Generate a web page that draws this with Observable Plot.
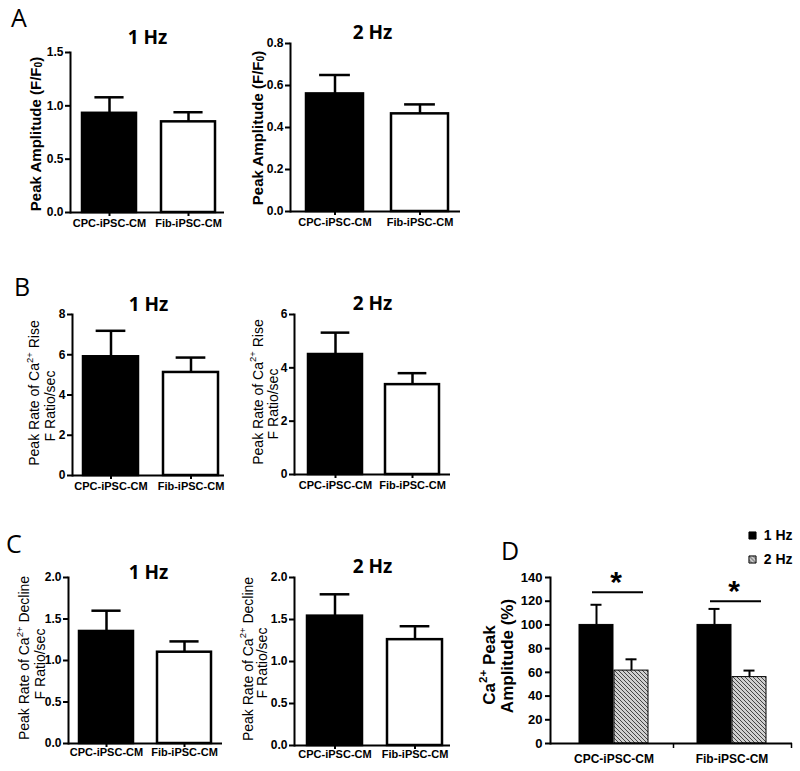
<!DOCTYPE html>
<html><head><meta charset="utf-8">
<script src="https://cdn.jsdelivr.net/npm/d3@7"></script>
<script src="https://cdn.jsdelivr.net/npm/@observablehq/plot@0.6"></script>
<style>
body{margin:0;background:#fff;}
#fig{position:relative;width:800px;height:771px;overflow:hidden;background:#fff;}
#fig svg{position:absolute;left:0;top:0;}
</style></head><body>
<div id="fig"></div>
<svg width="0" height="0" style="position:absolute">
  <defs>
    <pattern id="hatch" patternUnits="userSpaceOnUse" width="4" height="4">
      <rect width="4" height="4" fill="#cfcfcf"/>
      <path d="M-1,-1 L5,5 M3,-1 L5,1 M-1,3 L1,5" stroke="#444" stroke-width="1"/>
    </pattern>
  </defs>
</svg>
<script>
// ---------- data ----------
const groups = ["CPC-iPSC-CM", "Fib-iPSC-CM"];
const freqs = ["1 Hz", "2 Hz"];
// Panel A: Peak amplitude (F/F0)
const ampMean1Hz = [0.93, 0.85];
const ampSem1Hz = [0.15, 0.09];
const ampMean2Hz = [0.56, 0.465];
const ampSem2Hz = [0.09, 0.045];
const ampTicks1Hz = [0, 0.5, 1.0, 1.5];
const ampTicks2Hz = [0, 0.2, 0.4, 0.6, 0.8];
// Panel B: Peak rate of Ca2+ rise
const riseMean1Hz = [5.9, 5.12];
const riseSem1Hz = [1.29, 0.74];
const riseMean2Hz = [4.5, 3.37];
const riseSem2Hz = [0.82, 0.43];
const riseTicks1Hz = [0, 2, 4, 6, 8];
const riseTicks2Hz = [0, 2, 4, 6];
// Panel C: Peak rate of Ca2+ decline
const declMean1Hz = [1.35, 1.10];
const declSem1Hz = [0.25, 0.13];
const declMean2Hz = [1.54, 1.26];
const declSem2Hz = [0.26, 0.16];
const declTicks = [0, 0.5, 1.0, 1.5, 2.0];
// Panel D: Ca2+ peak amplitude (%)
const pct1Hz = [100, 100];
const pctSem1Hz = [17, 13.5];
const pct2Hz = [61.5, 56];
const pctSem2Hz = [9.5, 5.5];
const pctTicks = [0, 20, 40, 60, 80, 100, 120, 140];
const sigLineY = [127.5, 120];
const sigMark = ["*", "*"];

const FONT = "'Liberation Sans', Arial, Helvetica, sans-serif";
const TITLEFONT = "'Open Sans', 'Liberation Sans', sans-serif";
const W = 800, H = 771;
const fig = document.getElementById("fig");

function smallPanel(o) {
  const data = groups.map((g, i) => ({g, v: o.mean[i], e: o.sem[i]}));
  const step = o.s2 - o.s1;
  const pi = 1 - o.w / step;
  const ci = o.w * 0.23;
  const svg = Plot.plot({
    width: W, height: H,
    marginLeft: o.L, marginRight: W - o.R, marginTop: o.T, marginBottom: H - o.B,
    style: {background: "transparent", fontFamily: FONT, color: "black", overflow: "visible"},
    x: {domain: groups, range: [o.s1, o.s2 + o.w], paddingInner: pi, paddingOuter: 0, axis: null},
    y: {domain: [0, o.ticks[o.ticks.length - 1]], axis: null},
    color: {type: "ordinal", domain: groups, range: ["#000", "#fff"]},
    marks: [
      Plot.barY(data, {x: "g", y: "v", fill: "g", stroke: "#000", strokeWidth: 2.5}),
      Plot.ruleX(data, {x: "g", y1: "v", y2: d => d.v + d.e, stroke: "#000", strokeWidth: 2.5}),
      Plot.tickY(data, {x: "g", y: d => d.v + d.e, stroke: "#000", strokeWidth: 2.5, insetLeft: ci, insetRight: ci}),
      Plot.ruleY([0], {stroke: "#000", strokeWidth: 2}),
      Plot.frame({anchor: "left", stroke: "#000", strokeWidth: 2}),
      Plot.axisY({ticks: o.ticks, tickSize: 5, tickPadding: 2, tickFormat: o.fmt, fontSize: 12, fontWeight: "bold", fontFamily: FONT, strokeWidth: 2, label: null}),
      Plot.axisX({tickSize: 4, tickPadding: o.labPad, fontSize: 11, fontWeight: "bold", fontFamily: FONT, strokeWidth: 2, label: null}),
      Plot.text([o.title], {frameAnchor: "top", dy: o.titleY - o.T, dx: o.titleDx || 0, lineAnchor: "middle", fontSize: 19, fontWeight: "bold", fontFamily: TITLEFONT})
    ]
  });
  fig.appendChild(svg);
}

const f1 = d3.format(".1f"), f0 = d3.format("d");
smallPanel({mean: ampMean1Hz, sem: ampSem1Hz, ticks: ampTicks1Hz, fmt: f1, title: freqs[0],
  L: 70, R: 224, T: 52, B: 212, s1: 82, s2: 161, w: 54, titleY: 37, labPad: 3});
smallPanel({mean: ampMean2Hz, sem: ampSem2Hz, ticks: ampTicks2Hz, fmt: f1, title: freqs[1],
  L: 290, R: 460, T: 43, B: 211, s1: 306, s2: 391, w: 57, titleY: 32, titleDx: -3, labPad: 3});
smallPanel({mean: riseMean1Hz, sem: riseSem1Hz, ticks: riseTicks1Hz, fmt: f0, title: freqs[0],
  L: 72, R: 224, T: 314, B: 475, s1: 83, s2: 163, w: 55, titleY: 304, labPad: 3});
smallPanel({mean: riseMean2Hz, sem: riseSem2Hz, ticks: riseTicks2Hz, fmt: f0, title: freqs[1],
  L: 294, R: 450, T: 314, B: 474, s1: 307, s2: 385, w: 55, titleY: 303, labPad: 3});
smallPanel({mean: declMean1Hz, sem: declSem1Hz, ticks: declTicks, fmt: f1, title: freqs[0],
  L: 68, R: 222, T: 577, B: 743, s1: 79, s2: 157, w: 54, titleY: 572, titleDx: 3, labPad: 1});
smallPanel({mean: declMean2Hz, sem: declSem2Hz, ticks: declTicks, fmt: f1, title: freqs[1],
  L: 294, R: 450, T: 577, B: 745, s1: 307, s2: 387, w: 55, titleY: 566, labPad: 1});

// ---------- Panel D ----------
(function () {
  const d1 = groups.map((g, i) => ({g, v: pct1Hz[i], e: pctSem1Hz[i]}));
  const d2 = groups.map((g, i) => ({g, v: pct2Hz[i], e: pctSem2Hz[i]}));
  const sig = groups.map((g, i) => ({g, y: sigLineY[i], s: sigMark[i]}));
  const L = 550, R = 792, T = 577, B = 743;
  const s1 = 578, s2 = 697, w = 70;
  const half = w / 2;
  const cap = 6;
  const svg = Plot.plot({
    width: W, height: H,
    marginLeft: L, marginRight: W - R, marginTop: T, marginBottom: H - B,
    style: {background: "transparent", fontFamily: FONT, color: "black", overflow: "visible"},
    x: {domain: groups, range: [s1, s2 + w], paddingInner: 1 - w / (s2 - s1), paddingOuter: 0, axis: null},
    y: {domain: [0, 140], axis: null},
    marks: [
      Plot.barY(d1, {x: "g", y: "v", fill: "#000", stroke: "#000", strokeWidth: 1, insetRight: half}),
      Plot.barY(d2, {x: "g", y: "v", fill: "url(#hatch)", stroke: "#000", strokeWidth: 1, insetLeft: half}),
      Plot.ruleX(d1, {x: "g", y1: "v", y2: d => d.v + d.e, dx: -half / 2, stroke: "#000", strokeWidth: 2}),
      Plot.ruleX(d2, {x: "g", y1: "v", y2: d => d.v + d.e, dx: half / 2, stroke: "#000", strokeWidth: 2}),
      Plot.tickY(d1, {x: "g", y: d => d.v + d.e, stroke: "#000", strokeWidth: 2, insetLeft: half / 2 - cap, insetRight: half + half / 2 - cap}),
      Plot.tickY(d2, {x: "g", y: d => d.v + d.e, stroke: "#000", strokeWidth: 2, insetLeft: half + half / 2 - cap, insetRight: half / 2 - cap}),
      Plot.tickY(sig, {x: "g", y: "y", stroke: "#000", strokeWidth: 2, insetLeft: 13, insetRight: 5}),
      Plot.text(sig, {x: "g", y: "y", text: "s", dx: 2, dy: -10, lineAnchor: "middle", fontSize: 30, fontWeight: "bold", fontFamily: FONT}),
      Plot.ruleY([0], {stroke: "#000", strokeWidth: 2}),
      Plot.frame({anchor: "left", stroke: "#000", strokeWidth: 2}),
      Plot.ruleX(groups, {x: d => d, y1: 0, y2: 0, dx: (s2 - s1) / 2, insetBottom: -5, stroke: "#000", strokeWidth: 1.5}),
      Plot.axisY({ticks: pctTicks, tickSize: 5, tickPadding: 3, fontSize: 13, fontWeight: "bold", fontFamily: FONT, strokeWidth: 2, label: null}),
      Plot.axisX({tickSize: 0, tickPadding: 11, fontSize: 12, fontWeight: "bold", fontFamily: FONT, label: null}),
      // legend
      Plot.dot([freqs[0]], {frameAnchor: "top-right", dx: -40, dy: -42, symbol: "square", r: 4, fill: "#000", stroke: "#000", strokeWidth: 1}),
      Plot.text([freqs[0]], {frameAnchor: "top-right", dy: -42, textAnchor: "end", lineAnchor: "middle", fontSize: 14, fontWeight: "bold", fontFamily: FONT}),
      Plot.dot([freqs[1]], {frameAnchor: "top-right", dx: -40, dy: -18, symbol: "square", r: 4, fill: "url(#hatch)", stroke: "#000", strokeWidth: 1}),
      Plot.text([freqs[1]], {frameAnchor: "top-right", dy: -18, textAnchor: "end", lineAnchor: "middle", fontSize: 14, fontWeight: "bold", fontFamily: FONT})
    ]
  });
  fig.appendChild(svg);
})();

// ---------- overlay: panel letters and y-axis titles ----------
const ov = d3.select("#fig").append("svg").attr("width", W).attr("height", H).style("pointer-events", "none");
function vlabel(cx, cy, parts, size, weight) {
  const t = ov.append("text")
    .attr("transform", `translate(${cx},${cy}) rotate(-90)`)
    .attr("text-anchor", "middle").attr("dominant-baseline", "central")
    .attr("font-size", size).attr("font-weight", weight).attr("font-family", FONT).attr("fill", "#000");
  let shift = 0;
  for (const p of parts) {
    const s = t.append("tspan").text(p.t);
    const target = p.sup ? -0.38 * size : p.sub ? 0.22 * size : 0;
    if (target !== shift) { s.attr("dy", target - shift); shift = target; }
    if (p.sup || p.sub) s.attr("font-size", size * 0.68);
  }
}
const ampLabel = [{t: "Peak Amplitude (F/F"}, {t: "0", sub: true}, {t: ")"}];
const riseLabel = [{t: "Peak Rate of Ca"}, {t: "2+", sup: true}, {t: " Rise"}];
const declLabel = [{t: "Peak Rate of Ca"}, {t: "2+", sup: true}, {t: " Decline"}];
const unitLabel = [{t: "F Ratio/sec"}];
vlabel(35, 134, ampLabel, 15, "bold");
vlabel(257, 128, ampLabel, 15, "bold");
vlabel(34, 393, riseLabel, 14, "normal");
vlabel(50, 406, unitLabel, 14, "normal");
vlabel(257.5, 392, riseLabel, 14, "normal");
vlabel(273, 404, unitLabel, 14, "normal");
vlabel(24, 658, declLabel, 14, "normal");
vlabel(39.5, 664, unitLabel, 14, "normal");
vlabel(247.5, 659, declLabel, 14, "normal");
vlabel(262, 663, unitLabel, 14, "normal");
vlabel(489, 665, [{t: "Ca"}, {t: "2+", sup: true}, {t: " Peak"}], 17, "bold");
vlabel(507, 656, [{t: "Amplitude (%)"}], 17, "bold");

const letters = [["A", 11, 27], ["B", 14, 296], ["C", 6, 553], ["D", 501, 560]];
for (const [s, x, y] of letters) {
  ov.append("text").attr("x", x).attr("y", y).attr("font-family", TITLEFONT).attr("font-size", 25).attr("fill", "#000").text(s);
}
</script>
</body></html>
